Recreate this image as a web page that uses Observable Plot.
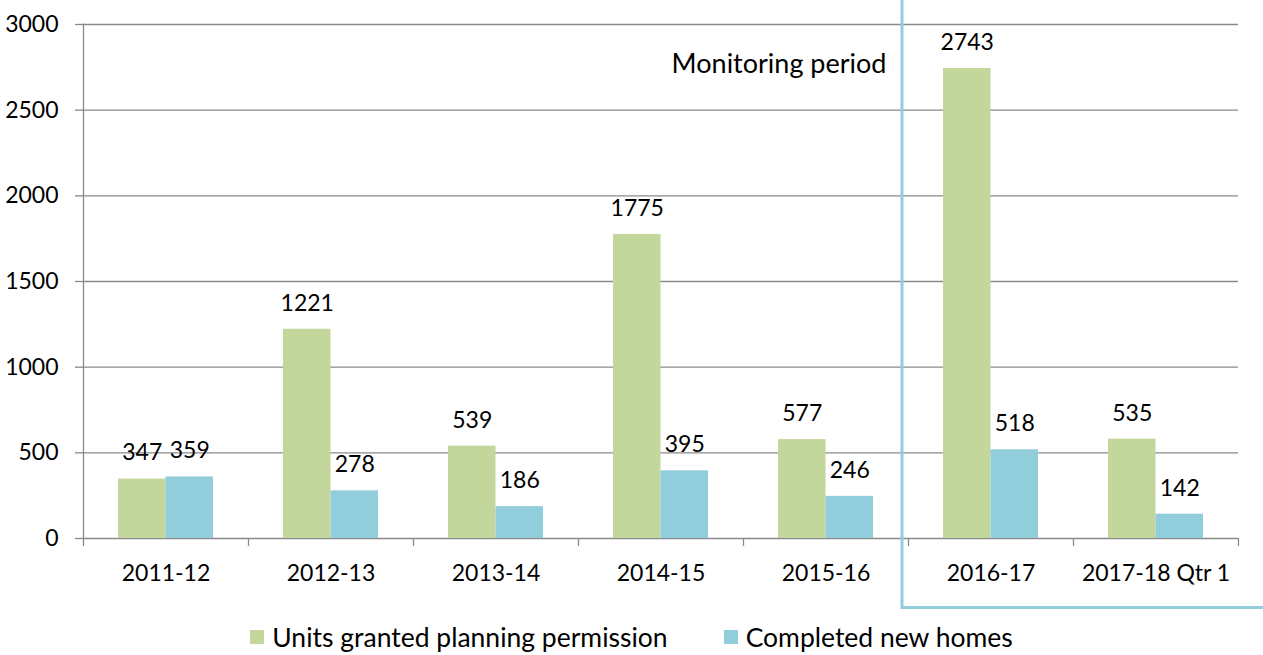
<!DOCTYPE html>
<html><head><meta charset="utf-8">
<script src="https://cdn.jsdelivr.net/npm/d3@7"></script>
<script src="https://cdn.jsdelivr.net/npm/@observablehq/plot@0.6"></script>
<style>
body{margin:0;background:#fff;font-family:Lato, "Open Sans", sans-serif;}
#legend{display:flex;justify-content:center;align-items:center;height:44px;font-size:26.5px;color:#000;}
.item{display:flex;align-items:center;margin:0 28px;}
.sw{width:14px;height:14px;margin-right:8px;}
</style></head><body><div id="chart"></div><div id="legend"></div>
<script>
const categories = ["2011-12","2012-13","2013-14","2014-15","2015-16","2016-17","2017-18 Qtr 1"];
const grantedValues = [347,1221,539,1775,577,2743,580];
const grantedLabels = [347,1221,539,1775,577,2743,535];
const completedValues = [359,278,186,395,246,518,142];
const completedLabels = [359,278,186,395,246,518,142];
const yTicks = [0,500,1000,1500,2000,2500,3000];
const seriesNames = ["Units granted planning permission","Completed new homes"];
const seriesColors = ["#C3D69B","#92CDDC"];
const monitoringStart = "2016-17";
const monitoringLabel = "Monitoring period";
const monitoringLabelValue = 2767;
const monitoringBottomValue = -406;

const rows = categories.map((c,i)=>({cat:c, g:grantedValues[i], gl:String(grantedLabels[i]), b:completedValues[i], bl:String(completedLabels[i])}));
const gray = "#8a8a8a";
const W = 1263, H = 615, ML = 83, MR = 25;
const step = (W - ML - MR) / categories.length;
const barW = 47.5, outer = 35;

function monitoringBox(...args){
  const s = args.find(a => a && typeof a.x === "function" && typeof a.y === "function");
  const d = args.find(a => a && typeof a.width === "number" && typeof a.marginLeft === "number");
  const x0 = s.x(monitoringStart) - 6;
  const yb = s.y(monitoringBottomValue);
  return d3.create("svg:path")
    .attr("d", `M${x0},0V${yb}H${d.width}`)
    .attr("fill","none").attr("stroke","#93CDDD").attr("stroke-width",3).node();
}

const chart = Plot.plot({
  width: W, height: H,
  marginLeft: ML, marginRight: MR, marginTop: 24, marginBottom: 77,
  style: {fontFamily: "Lato, 'Open Sans', sans-serif", fontSize: "23px", color: "#000", background: "#fff"},
  x: {type: "band", domain: categories, padding: 0},
  y: {domain: [0, 3000]},
  marks: [
    Plot.gridY(yTicks, {stroke: gray, strokeOpacity: 1, strokeWidth: 1.3}),
    Plot.axisY(yTicks, {tickSize: 8, tickPadding: 17, stroke: gray, strokeWidth: 1.3, fontSize: 23, label: null, tickFormat: d => String(d)}),
    Plot.frame({anchor: "left", stroke: gray, strokeWidth: 1.3}),
    Plot.ruleX(categories, {x: d=>d, dx: -step/2, y1: 0, y2: -47, stroke: gray, strokeWidth: 1.3}),
    Plot.ruleX([categories[categories.length-1]], {x: d=>d, dx: step/2, y1: 0, y2: -47, stroke: gray, strokeWidth: 1.3}),
    Plot.axisX({tickSize: 0, tickPadding: 26, fontSize: 23, label: null}),
    Plot.barY(rows, {x: "cat", y: "g", fill: seriesColors[0], insetLeft: outer, insetRight: step - outer - barW}),
    Plot.barY(rows, {x: "cat", y: "b", fill: seriesColors[1], insetLeft: step - outer - barW, insetRight: outer}),
    Plot.text(rows, {x: "cat", y: "g", text: "gl", dx: -(barW/2), dy: -26, fontSize: 23, fill: "#000"}),
    Plot.text(rows, {x: "cat", y: "b", text: "bl", dx: barW/2, dy: -26, fontSize: 23, fill: "#000"}),
    Plot.text([monitoringLabel], {x: () => monitoringStart, y: () => monitoringLabelValue, text: d=>d, dx: -step/2 - 22, textAnchor: "end", fontSize: 27, fill: "#000"}),
    monitoringBox
  ]
});
document.getElementById("chart").append(chart);

const legend = document.getElementById("legend");
seriesNames.forEach((n,i)=>{
  const it = document.createElement("div"); it.className = "item";
  const sw = document.createElement("div"); sw.className = "sw"; sw.style.background = seriesColors[i];
  const t = document.createElement("span"); t.textContent = n;
  it.append(sw, t); legend.append(it);
});
</script></body></html>
